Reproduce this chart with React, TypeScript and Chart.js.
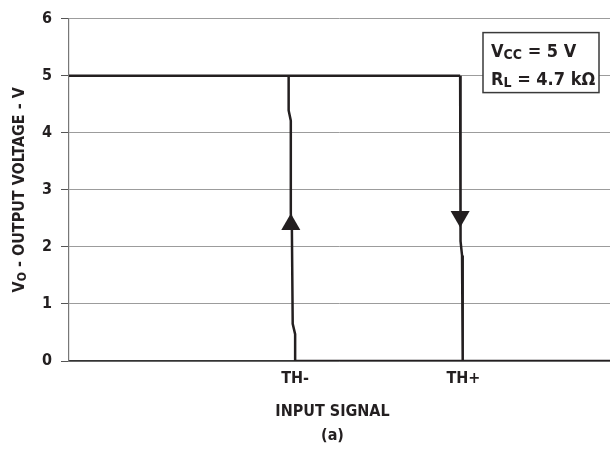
import { useEffect, useRef } from 'react';
import { Chart, registerables } from 'chart.js';

Chart.register(...registerables);

// ---- data ----
const yTickValues = [0, 1, 2, 3, 4, 5, 6];
const xTickValues = [41.8, 72.9];
const xTickLabels = ['TH-', 'TH+'];

const highX = [0, 72.3];
const highY = [5, 5];
const fallX = [72.3, 72.3, 72.45, 72.65, 72.75, 72.8];
const fallY = [5, 2.5, 2.1, 1.85, 1.5, 0];
const lowX = [41.8, 100];
const lowY = [0, 0];
const riseX = [41.8, 41.8, 41.35, 41.2, 41.0, 41.0, 40.6, 40.6];
const riseY = [0, 0.47, 0.65, 2.3, 2.58, 4.21, 4.39, 5];
const arrowX = [41.0, 72.3];
const arrowY = [2.39, 2.53];
const arrowRot = [0, 180];

const xTitleLines = ['INPUT SIGNAL', '(a)'];
const yTitleParts = { main: 'V', sub: 'O', rest: ' - OUTPUT VOLTAGE - V' };
const boxLines = [
  { main: 'V', sub: 'CC', rest: ' = 5 V' },
  { main: 'R', sub: 'L', rest: ' = 4.7 kΩ' },
];

const FONT = '"Liberation Sans Narrow", "DejaVu Sans Condensed", "Roboto Condensed", "Open Sans", sans-serif';
const INK = '#231f20';

const pts = (xs: number[], ys: number[]) => xs.map((x, i) => ({ x, y: ys[i] }));

function drawSubText(ctx: CanvasRenderingContext2D, x: number, y: number, p: { main: string; sub: string; rest: string }, size: number, subSize: number, measureOnly = false) {
  ctx.font = `bold ${size}px ${FONT}`;
  const w1 = ctx.measureText(p.main).width;
  const w3 = ctx.measureText(p.rest).width;
  ctx.font = `bold ${subSize}px ${FONT}`;
  const w2 = ctx.measureText(p.sub).width;
  const total = w1 + w2 + w3;
  if (measureOnly) return total;
  ctx.textBaseline = 'alphabetic';
  ctx.textAlign = 'left';
  ctx.font = `bold ${size}px ${FONT}`;
  ctx.fillText(p.main, x, y);
  ctx.font = `bold ${subSize}px ${FONT}`;
  ctx.fillText(p.sub, x + w1, y + size * 0.15);
  ctx.font = `bold ${size}px ${FONT}`;
  ctx.fillText(p.rest, x + w1 + w2, y);
  return total;
}

const decorPlugin = {
  id: 'decor',
  afterDraw(chart: any) {
    const { ctx, chartArea } = chart;
    ctx.save();
    ctx.fillStyle = INK;
    // y title (rotated)
    const cy = (chartArea.top + chartArea.bottom) / 2;
    ctx.save();
    ctx.translate(18, cy);
    ctx.rotate(-Math.PI / 2);
    const tw = drawSubText(ctx, 0, 0, yTitleParts, 16, 12, true) as number;
    drawSubText(ctx, -tw / 2, 6, yTitleParts, 16, 12);
    ctx.restore();
    // x title
    const cx = (chartArea.left + chartArea.right) / 2 - 7;
    ctx.font = `bold 16px ${FONT}`;
    ctx.textAlign = 'center';
    ctx.textBaseline = 'middle';
    ctx.fillText(xTitleLines[0], cx, 412);
    ctx.fillText(xTitleLines[1], cx, 436);
    // legend box
    const bx = chartArea.right - 127;
    const by = chartArea.top + 14;
    const bw = 116;
    const bh = 60;
    ctx.fillStyle = '#ffffff';
    ctx.fillRect(bx, by, bw, bh);
    ctx.strokeStyle = '#3a3a3a';
    ctx.lineWidth = 1.5;
    ctx.strokeRect(bx, by, bw, bh);
    ctx.fillStyle = INK;
    drawSubText(ctx, bx + 8, by + 24, boxLines[0], 18, 14);
    drawSubText(ctx, bx + 8, by + 52, boxLines[1], 18, 14);
    ctx.restore();
  },
};

export default function App() {
  const ref = useRef<HTMLCanvasElement>(null);
  useEffect(() => {
    document.body.style.margin = '0';
    const line = (data: any) => ({
      data,
      showLine: true,
      borderColor: INK,
      borderWidth: 2.5,
      pointRadius: 0,
      fill: false,
      tension: 0,
    });
    const chart = new Chart(ref.current as HTMLCanvasElement, {
      type: 'scatter',
      data: {
        datasets: [
          line(pts(highX, highY)),
          line(pts(fallX, fallY)),
          line(pts(lowX, lowY)),
          line(pts(riseX, riseY)),
          {
            data: pts(arrowX, arrowY),
            showLine: false,
            pointStyle: 'triangle',
            pointRadius: 11,
            pointRotation: arrowRot,
            backgroundColor: INK,
            borderColor: INK,
            borderWidth: 0,
          } as any,
        ],
      },
      options: {
        animation: false,
        responsive: false,
        maintainAspectRatio: false,
        layout: { autoPadding: false, padding: { top: 18, right: 0, left: 0, bottom: 0 } },
        plugins: { legend: { display: false }, tooltip: { enabled: false } },
        scales: {
          x: {
            type: 'linear',
            min: 0,
            max: 100,
            afterBuildTicks: (scale: any) => {
              scale.ticks = xTickValues.map((v) => ({ value: v }));
            },
            afterFit: (scale: any) => {
              scale.height = 90;
            },
            ticks: {
              autoSkip: false,
              maxRotation: 0,
              padding: 8,
              color: INK,
              font: { family: FONT, size: 16, weight: 'bold' },
              callback: (v: any) => {
                const i = xTickValues.indexOf(Number(v));
                return i >= 0 ? xTickLabels[i] : '';
              },
            },
            grid: { display: true, drawOnChartArea: false, drawTicks: false },
            border: { display: true, color: '#333333', width: 1.5 },
          },
          y: {
            type: 'linear',
            min: 0,
            max: 6,
            afterBuildTicks: (scale: any) => {
              scale.ticks = yTickValues.map((v) => ({ value: v }));
            },
            afterFit: (scale: any) => {
              scale.width = 69;
            },
            ticks: {
              padding: 9,
              color: INK,
              font: { family: FONT, size: 16, weight: 'bold' },
            },
            grid: { color: '#9c9c9c', lineWidth: 1, tickColor: '#555555', tickLength: 8 },
            border: { display: true, color: '#777777', width: 1.2 },
          },
        },
      },
      plugins: [decorPlugin],
    });
    return () => chart.destroy();
  }, []);
  return (
    <div style={{ width: 610, height: 451 }}>
      <canvas ref={ref} width={610} height={451} style={{ display: 'block' }} />
    </div>
  );
}
